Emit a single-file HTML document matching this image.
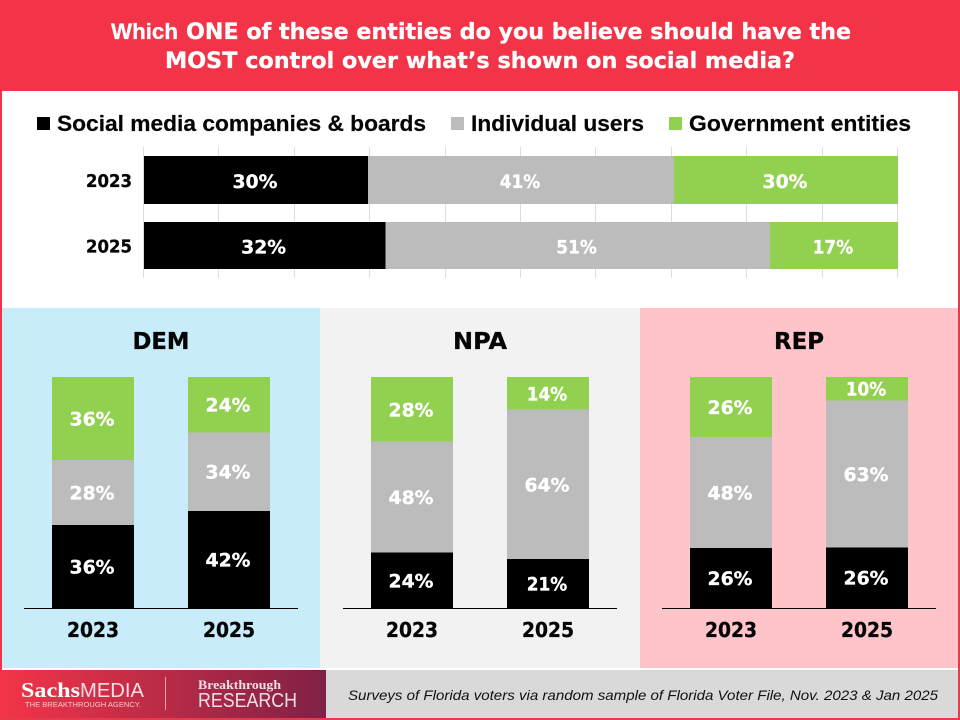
<!DOCTYPE html>
<html lang="en">
<head>
<meta charset="utf-8">
<title>Social media control survey chart</title>
<style>
html,body{margin:0;padding:0;background:#f33448;}
svg{display:block;}
text{font-family:"DejaVu Sans",sans-serif;font-weight:700;}
rect{shape-rendering:crispEdges;}
.legend{font-family:"Liberation Sans",sans-serif;font-size:22.5px;fill:#050505;stroke:#050505;stroke-width:0.2px;}
.title{font-size:22px;fill:#fff;stroke:#fff;stroke-width:0.3px;}
.val{font-size:19px;fill:#fff;stroke:#fff;stroke-width:0.3px;}
.year{font-size:19px;fill:#050505;stroke:#050505;stroke-width:0.3px;}
.panel-title{font-size:23px;fill:#050505;stroke:#050505;stroke-width:0.3px;}
</style>
</head>
<body>
<svg id="chart" xmlns="http://www.w3.org/2000/svg" width="960" height="720" viewBox="0 0 960 720">
  <rect x="0" y="0" width="960" height="720" fill="#f33448"/>
  <rect x="958" y="91" width="2" height="629" fill="#e63b4b"/>
  <rect x="2" y="718" width="958" height="2" fill="#e63b4b"/>
  <rect x="2" y="91" width="956" height="217" fill="#ffffff"/>

  <text class="title" style="font-family:'Liberation Sans',sans-serif" x="111" y="39" textLength="67" lengthAdjust="spacingAndGlyphs">Which</text>
  <text class="title" x="186" y="39" textLength="665" lengthAdjust="spacingAndGlyphs">ONE of these entities do you believe should have the</text>
  <text class="title" x="165" y="68" textLength="630" lengthAdjust="spacingAndGlyphs">MOST control over what’s shown on social media?</text>

  <g>
    <rect x="37" y="117" width="13" height="13" fill="#000000"/>
    <text class="legend" x="57" y="131" textLength="369" lengthAdjust="spacingAndGlyphs">Social media companies &amp; boards</text>
    <rect x="451" y="117" width="13" height="13" fill="#bcbcbc"/>
    <text class="legend" x="471" y="131" textLength="173" lengthAdjust="spacingAndGlyphs">Individual users</text>
    <rect x="669" y="117" width="13" height="13" fill="#92d050"/>
    <text class="legend" x="689" y="131" textLength="222" lengthAdjust="spacingAndGlyphs">Government entities</text>
  </g>

  <g id="top-chart"></g>

  <rect x="2" y="308" width="318" height="360" fill="#c9ecfb"/>
  <rect x="320" y="308" width="320" height="360" fill="#f2f2f2"/>
  <rect x="640" y="308" width="318" height="360" fill="#fec4ca"/>
  <g id="panels"></g>

  <rect x="2" y="668" width="956" height="2" fill="#ffffff"/>
  <defs>
    <linearGradient id="logoGrad" x1="0" y1="0" x2="1" y2="0">
      <stop offset="0" stop-color="#f33448"/>
      <stop offset="1" stop-color="#7f2146"/>
    </linearGradient>
  </defs>
  <rect x="2" y="670" width="324" height="48" fill="url(#logoGrad)"/>
  <rect x="326" y="670" width="632" height="48" fill="#d9d9d9"/>
  <g>
    <text x="21" y="697" font-size="21" fill="#fff" style="font-family:'Liberation Serif',serif" textLength="59" lengthAdjust="spacingAndGlyphs">Sachs</text>
    <text x="80" y="697" font-size="20" fill="#f8dfe2" style="font-family:'Liberation Sans',sans-serif;font-weight:400" textLength="64" lengthAdjust="spacingAndGlyphs">MEDIA</text>
    <text x="25" y="707" font-size="7" fill="#f8c9cf" style="font-family:'Liberation Sans',sans-serif;font-weight:400" textLength="116" lengthAdjust="spacingAndGlyphs">THE BREAKTHROUGH AGENCY.</text>
  </g>
  <rect x="165" y="677" width="1" height="33" fill="#e9a0aa"/>
  <g>
    <text x="198" y="689" font-size="13" fill="#f3dfe3" style="font-family:'Liberation Serif',serif" textLength="83" lengthAdjust="spacingAndGlyphs">Breakthrough</text>
    <text x="198" y="707" font-size="20" fill="#f3dfe3" style="font-family:'Liberation Sans',sans-serif;font-weight:400" textLength="99" lengthAdjust="spacingAndGlyphs">RESEARCH</text>
  </g>
  <text x="348" y="700" font-size="14" fill="#111" style="font-family:'Liberation Sans',sans-serif;font-weight:400;font-style:italic" textLength="590" lengthAdjust="spacingAndGlyphs">Surveys of Florida voters via random sample of Florida Voter File, Nov. 2023 &amp; Jan 2025</text>
</svg>

<script>
// Overall chart data
const years = ['2023', '2025'];
const overallCompanies = [30, 32];
const overallUsers = [41, 51];
const overallGovernment = [30, 17];
// Party chart data (2023, 2025)
const demCompanies = [36, 42];
const demUsers = [28, 34];
const demGovernment = [36, 24];
const npaCompanies = [24, 21];
const npaUsers = [48, 64];
const npaGovernment = [28, 14];
const repCompanies = [26, 26];
const repUsers = [48, 63];
const repGovernment = [26, 10];
const gridTicks = [0, 10, 20, 30, 40, 50, 60, 70, 80, 90, 100];

const NS = 'http://www.w3.org/2000/svg';
const BLACK = '#000000', GRAY = '#bcbcbc', GREEN = '#92d050';

function make(parent, tag, attrs, content) {
  const el = document.createElementNS(NS, tag);
  for (const k in attrs) el.setAttribute(k, attrs[k]);
  if (content !== undefined) el.textContent = content;
  parent.appendChild(el);
  return el;
}
function valueWidth(str) {
  const ones = str.split('1').length - 1;
  return 45 - ones * 4.5;
}

// Horizontal 100% stacked bars
const topChart = document.getElementById('top-chart');
const plotLeft = 144, plotWidth = 754;
const xPct = p => plotLeft + p / 100 * plotWidth;
const barTop = i => 156 + i * 66;
const barHeight = i => 48 - i;

gridTicks.forEach(t => {
  const line = make(topChart, 'line', { x1: Math.round(xPct(t)) - 0.5, x2: Math.round(xPct(t)) - 0.5, y1: 147, y2: 278, stroke: '#dedede', 'stroke-width': 1 });
  
  
});

years.forEach((year, i) => {
  const y = barTop(i), h = barHeight(i);
  const segs = [
    ['companies', overallCompanies[i], BLACK],
    ['users', overallUsers[i], GRAY],
    ['government', overallGovernment[i], GREEN]
  ];
  const total = segs.reduce((s, d) => s + d[1], 0);
  const yearLabel = make(topChart, 'text', { x: 132, y: y + h / 2 + 7, 'text-anchor': 'end', class: 'year', style: 'font-size:18px', textLength: 46, lengthAdjust: 'spacingAndGlyphs' }, year);
  
  
  let cum = 0;
  segs.forEach(d => {
    const x0 = xPct(cum / total * 100);
    const x1 = xPct((cum + d[1]) / total * 100);
    const bar = make(topChart, 'rect', { x: x0, y: y, width: x1 - x0, height: h, fill: d[2] });
    
    
    const str = d[1] + '%';
    const label = make(topChart, 'text', { x: (x0 + x1) / 2 - 1, y: y + h / 2 + 8, 'text-anchor': 'middle', class: 'val', textLength: valueWidth(str), lengthAdjust: 'spacingAndGlyphs' }, str);
    
    
    cum += d[1];
  });
});

// Vertical 100% stacked party panels
const panelsGroup = document.getElementById('panels');
const baseY = 608, plotHeight = 231, barWidth = 82;
const titleWidths = { DEM: 57, NPA: 54, REP: 50 };

function drawPanel(party, axisLeft, companies, users, government) {
  const key = party.toLowerCase();
  const g = make(panelsGroup, 'g', {});
  
  

  const title = make(g, 'text', { x: axisLeft + 137, y: 349, 'text-anchor': 'middle', class: 'panel-title', textLength: titleWidths[party], lengthAdjust: 'spacingAndGlyphs' }, party);
  
  

  years.forEach((year, i) => {
    const x = axisLeft + 28 + i * 136;
    const segs = [
      ['companies', companies[i], BLACK],
      ['users', users[i], GRAY],
      ['government', government[i], GREEN]
    ];
    const total = segs.reduce((s, d) => s + d[1], 0);
    const yPct = v => baseY - v / total * plotHeight;
    let cum = 0;
    segs.forEach(d => {
      const y1 = yPct(cum), y0 = yPct(cum + d[1]);
      const bar = make(g, 'rect', { x: x, y: y0, width: barWidth, height: y1 - y0, fill: d[2] });
      
      
      const str = d[1] + '%';
      const label = make(g, 'text', { x: x + barWidth / 2 - 1, y: (y0 + y1) / 2 + 7, 'text-anchor': 'middle', class: 'val', textLength: valueWidth(str), lengthAdjust: 'spacingAndGlyphs' }, str);
      
      
      cum += d[1];
    });
    const yearLabel = make(g, 'text', { x: x + barWidth / 2, y: 637, 'text-anchor': 'middle', class: 'year', style: 'font-size:20px', textLength: 52, lengthAdjust: 'spacingAndGlyphs' }, year);
    
    
  });

  const axis = make(g, 'line', { x1: axisLeft, x2: axisLeft + 274, y1: baseY + 0.5, y2: baseY + 0.5, stroke: '#000', 'stroke-width': 1 });
  
  
}

drawPanel('DEM', 24, demCompanies, demUsers, demGovernment);
drawPanel('NPA', 343, npaCompanies, npaUsers, npaGovernment);
drawPanel('REP', 662, repCompanies, repUsers, repGovernment);
</script>
</body>
</html>
